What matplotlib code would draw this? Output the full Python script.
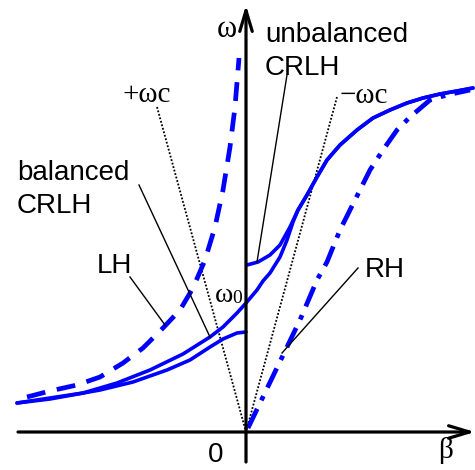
import numpy as np
import matplotlib
matplotlib.use("Agg")
import matplotlib.pyplot as plt

plt.rcParams['font.family'] = ['Liberation Sans', 'DejaVu Sans']

# dispersion curves (beta, omega in arbitrary units)
lh_beta = [-219, -196, -169, -146, -123, -103, -83, -66, -53, -41, -31, -23, -16, -11, -7]
lh_omega = [35, 41, 47, 55, 69, 84, 104, 122, 144, 172, 205, 242, 285, 325, 374]

bal_beta = [-229, -196, -163, -129, -96, -63, -36, -23, -9, 0, 11, 17, 24, 34, 41, 47,
            52, 61, 71, 81, 94, 111, 127, 144, 161, 177, 194, 211, 227]
bal_omega = [29, 34, 39, 49, 62, 78, 95, 105, 119, 129, 142, 151, 159, 175, 192, 210,
             222, 237, 255, 272, 287, 302, 314, 322, 329, 334, 338, 341, 344]

unb_up_beta = [1, 12, 24, 34, 44, 52, 61, 71, 81, 94, 111, 127, 144, 161, 177, 194, 211, 227]
unb_up_omega = [167, 170, 177, 187, 205, 222, 237, 255, 272, 287, 302, 314, 322, 329,
                334, 338, 341, 344]

unb_lo_beta = [-229, -196, -146, -113, -79, -56, -36, -23, -9, 0]
unb_lo_omega = [29, 33, 42, 50, 62, 72, 85, 93, 99, 100]

rh_beta = [2, 41, 54, 71, 81, 94, 104, 114, 124, 137, 151, 164, 184, 201, 224]
rh_omega = [4, 85, 112, 152, 170, 202, 222, 242, 262, 282, 302, 315, 332, 337, 342]

# light lines +wc / -wc
wc_plus = [(-89, 325), (0, 0)]
wc_minus = [(91, 335), (0, 0)]

blue = '#0000ff'

fig = plt.figure(figsize=(4.75, 4.70), dpi=100)
ax = fig.add_axes([0, 0, 1, 1])
ax.set_xlim(-246, 229)
ax.set_ylim(-38, 432)
ax.axis('off')

# axes with arrows
arrow = dict(arrowstyle='->, head_length=1.5, head_width=0.45', lw=2.3,
             color='black', shrinkA=0, shrinkB=0, mutation_scale=10)
ax.annotate('', xy=(229, 0), xytext=(-228, 0), arrowprops=arrow)
ax.annotate('', xy=(0, 427), xytext=(0, -30), arrowprops=arrow)

# light lines
for pts in (wc_plus, wc_minus):
    ax.plot([p[0] for p in pts], [p[1] for p in pts], color='black',
            lw=1.3, ls=(0, (1, 1)))

# curves
ax.plot(lh_beta, lh_omega, color=blue, lw=3.4, dashes=(4, 2.5))
ax.plot(rh_beta, rh_omega, color=blue, lw=3.4, dashes=(4.5, 2, 1, 2))
for b, w in ((bal_beta, bal_omega), (unb_up_beta, unb_up_omega),
             (unb_lo_beta, unb_lo_omega)):
    ax.plot(b, w, color=blue, lw=2.6, solid_joinstyle='round',
            solid_capstyle='round')

# leader lines
leaders = [[(-107, 247), (-36, 95)],
           [(41, 357), (11, 170)],
           [(-116, 155), (-81, 107)],
           [(112, 164), (36, 79)]]
for (x0, y0), (x1, y1) in leaders:
    ax.plot([x0, x1], [y0, y1], color='black', lw=1.0)

# labels
sans = dict(fontsize=20, va='baseline', ha='left')
ax.text(-229, 252, 'balanced', **sans)
ax.text(-229, 219, 'CRLH', **sans)
ax.text(19, 390, 'unbalanced', **sans)
ax.text(19, 357, 'CRLH', **sans)
ax.text(-149, 159, 'LH', **sans)
ax.text(119, 155, 'RH', **sans)
ax.text(-38, -30, '0', **sans)

serif = dict(family=['Liberation Serif', 'DejaVu Serif'], va='baseline', ha='left')
ax.text(-29, 395, 'ω', fontsize=22, **serif)
ax.text(192, -26, 'β', fontsize=21, **serif)
ax.text(-124, 330, '+ωc', fontsize=21, **serif)
ax.text(94, 329, '−ωc', fontsize=21, **serif)
ax.text(-31, 130, 'ω', fontsize=20, **serif)
ax.text(-14, 129, '0', fontsize=14, **serif)

fig.savefig('out.png', dpi=100)
